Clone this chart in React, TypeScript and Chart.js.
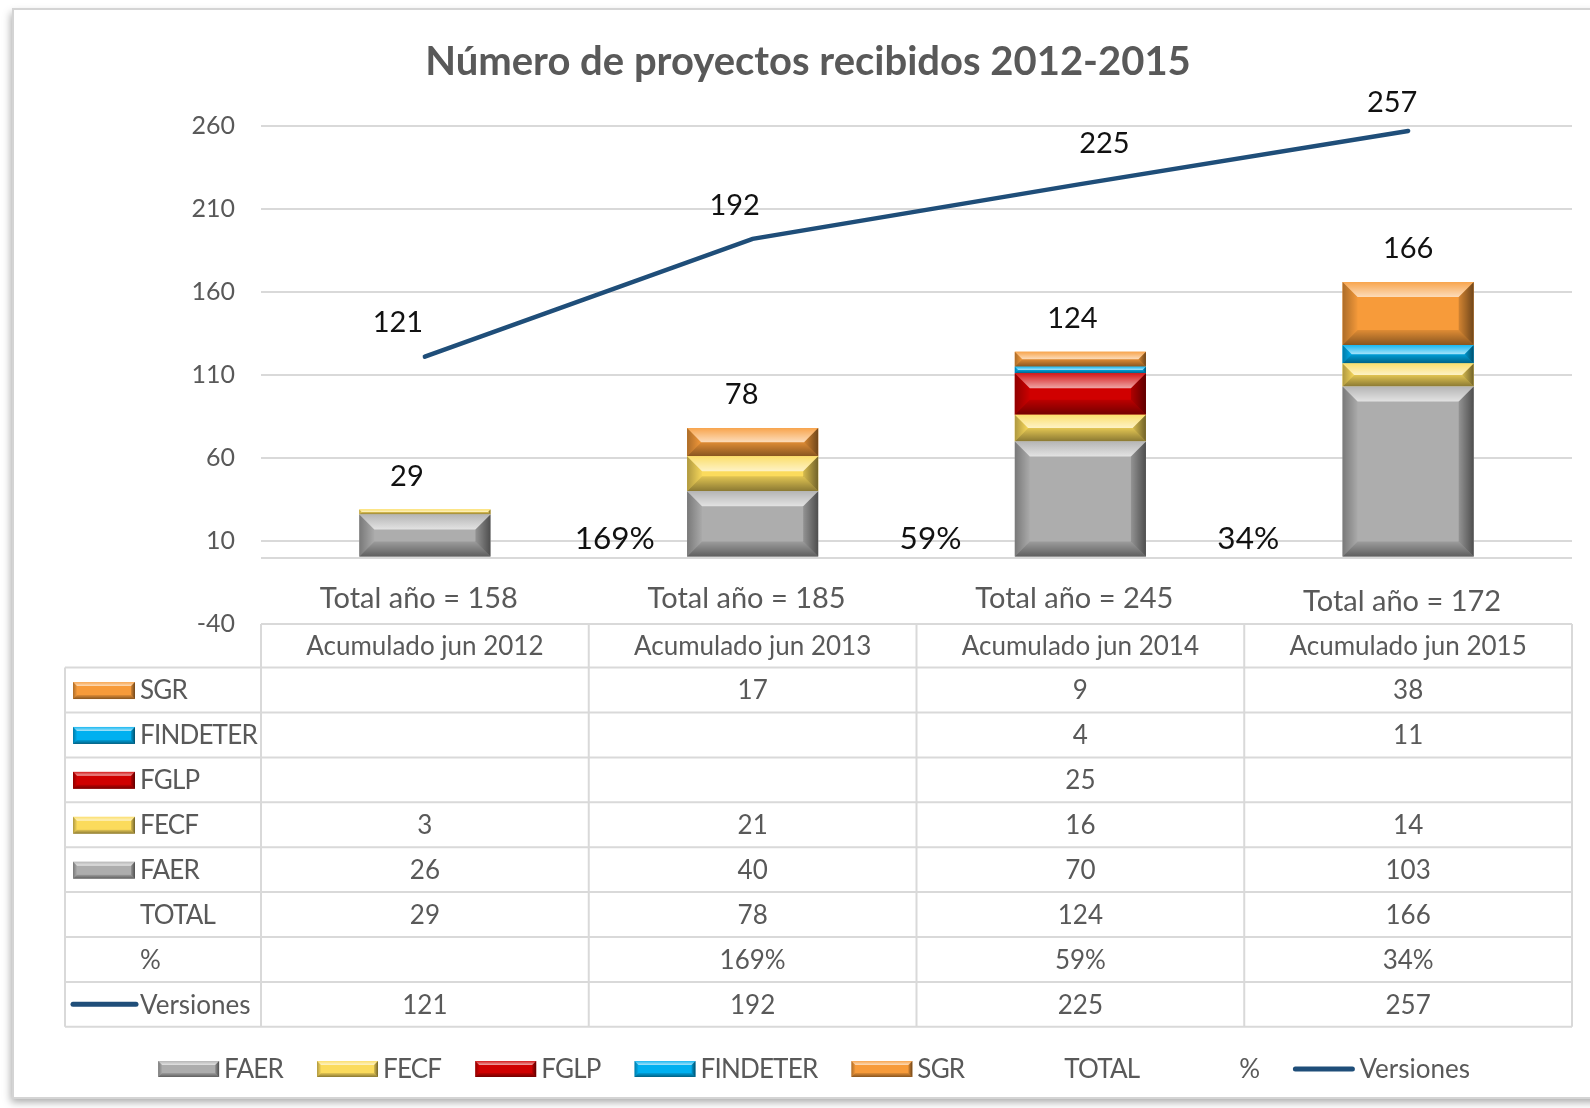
import { useEffect, useRef } from 'react';
import { Chart, registerables } from 'chart.js';

Chart.register(...registerables);

// ---- data ----
const categories = ['Acumulado jun 2012', 'Acumulado jun 2013', 'Acumulado jun 2014', 'Acumulado jun 2015'];
const faer: (number | null)[] = [26, 40, 70, 103];
const fecf: (number | null)[] = [3, 21, 16, 14];
const fglp: (number | null)[] = [null, null, 25, null];
const findeter: (number | null)[] = [null, null, 4, 11];
const sgr: (number | null)[] = [null, 17, 9, 38];
const totals: number[] = [29, 78, 124, 166];
const pct: (number | null)[] = [null, 169, 59, 34];
const versiones: number[] = [121, 192, 225, 257];
const totalAnio: number[] = [158, 185, 245, 172];
const yTicks: number[] = [-40, 10, 60, 110, 160, 210, 260];

const TITLE = 'Número de proyectos recibidos 2012-2015';

// ---- label placement (style, pixel offsets) ----
const lineLabelDx = [-27, -18, 24, -16];
const lineLabelDy = [-34, -33, -40, -28];
const totalLabelDx = [-18, -11, -8, 0];
const pctLabelDx = [0, 26, 14, 4];
const totalAnioDy = [0, 0, 0, 3];

// ---- styles ----
const F = 'Lato, "Noto Sans", sans-serif';
const GRAY_TEXT = '#595959';
const COLORS: Record<string, string> = {
  FAER: '#ADADAD',
  FECF: '#FBDB5C',
  FGLP: '#D00000',
  FINDETER: '#00B0F0',
  SGR: '#F79B3A',
};
const LINE_COLOR = '#1F4E79';

function poly(ctx: CanvasRenderingContext2D, pts: number[][], fill: string | CanvasGradient) {
  ctx.beginPath();
  ctx.moveTo(pts[0][0], pts[0][1]);
  for (let i = 1; i < pts.length; i++) ctx.lineTo(pts[i][0], pts[i][1]);
  ctx.closePath();
  ctx.fillStyle = fill;
  ctx.fill();
}

function bevelRect(ctx: CanvasRenderingContext2D, l: number, t: number, w: number, h: number, color: string, bv: number) {
  const r = l + w;
  const bot = t + h;
  const b = Math.max(0, Math.min(bv, h / 2, w / 2));
  ctx.fillStyle = color;
  ctx.fillRect(l, t, w, h);
  if (b <= 0) return;
  const gTop = ctx.createLinearGradient(0, t, 0, t + b);
  gTop.addColorStop(0, 'rgba(255,255,255,0.10)');
  gTop.addColorStop(1, 'rgba(255,255,255,0.65)');
  poly(ctx, [[l, t], [r, t], [r - b, t + b], [l + b, t + b]], gTop);
  const gBot = ctx.createLinearGradient(0, bot - b, 0, bot);
  gBot.addColorStop(0, 'rgba(0,0,0,0.10)');
  gBot.addColorStop(1, 'rgba(0,0,0,0.45)');
  poly(ctx, [[l, bot], [r, bot], [r - b, bot - b], [l + b, bot - b]], gBot);
  const gL = ctx.createLinearGradient(l, 0, l + b, 0);
  gL.addColorStop(0, 'rgba(0,0,0,0.30)');
  gL.addColorStop(1, 'rgba(0,0,0,0.02)');
  poly(ctx, [[l, t], [l + b, t + b], [l + b, bot - b], [l, bot]], gL);
  const gR = ctx.createLinearGradient(r - b, 0, r, 0);
  gR.addColorStop(0, 'rgba(0,0,0,0.15)');
  gR.addColorStop(1, 'rgba(0,0,0,0.55)');
  poly(ctx, [[r, t], [r - b, t + b], [r - b, bot - b], [r, bot]], gR);
}

function setSpacing(ctx: any, text: string) {
  ctx.letterSpacing = /[a-z]/.test(text) ? '0px' : '-0.8px';
}

const customPlugin = {
  id: 'customDraw',
  beforeDraw(chart: any) {
    const ctx: CanvasRenderingContext2D = chart.ctx;
    const W = chart.width;
    const H = chart.height;
    ctx.save();
    ctx.fillStyle = '#ffffff';
    ctx.fillRect(0, 0, W, H);
    ctx.shadowColor = 'rgba(0,0,0,0.35)';
    ctx.shadowBlur = 8;
    ctx.shadowOffsetX = -2;
    ctx.shadowOffsetY = 4;
    ctx.fillStyle = '#ffffff';
    ctx.fillRect(13, 9, 1660, 1089);
    ctx.shadowColor = 'transparent';
    ctx.strokeStyle = '#D4D4D4';
    ctx.lineWidth = 2;
    ctx.strokeRect(13, 9, 1660, 1089);
    ctx.fillStyle = GRAY_TEXT;
    ctx.font = `bold 40px ${F}`;
    ctx.textAlign = 'center';
    ctx.textBaseline = 'middle';
    ctx.fillText(TITLE, 808, 62);
    ctx.restore();
  },
  afterDatasetDraw(chart: any, args: any) {
    const ds = chart.data.datasets[args.index];
    if (ds.type === 'line') return;
    const ctx: CanvasRenderingContext2D = chart.ctx;
    const meta = chart.getDatasetMeta(args.index);
    ctx.save();
    meta.data.forEach((el: any, j: number) => {
      if (ds.data[j] == null) return;
      const { x, y, base, width } = el.getProps(['x', 'y', 'base', 'width'], true);
      const top = Math.min(y, base);
      const h = Math.abs(base - y);
      bevelRect(ctx, x - width / 2, top, width, h, ds.backgroundColor, 15);
    });
    ctx.restore();
  },
  afterDraw(chart: any) {
    const ctx: any = chart.ctx;
    const xs = chart.scales.x;
    const ys = chart.scales.y;
    const area = chart.chartArea;
    const n = categories.length;
    const cx = (i: number) => xs.getPixelForValue(i);
    const catW = area.width / n;
    const boundary = (i: number) => area.left + i * catW;
    ctx.save();
    ctx.textAlign = 'center';
    ctx.textBaseline = 'middle';

    // line labels
    const lineMeta = chart.getDatasetMeta(0);
    ctx.fillStyle = '#111111';
    ctx.font = `29px ${F}`;
    lineMeta.data.forEach((el: any, j: number) => {
      ctx.fillText(String(versiones[j]), el.x + lineLabelDx[j], el.y + lineLabelDy[j]);
    });
    // totals above bars
    totals.forEach((v, i) => {
      ctx.fillText(String(v), cx(i) + totalLabelDx[i], ys.getPixelForValue(v) - 33);
    });
    // percentage labels
    ctx.font = `31.5px ${F}`;
    pct.forEach((v, i) => {
      if (v == null) return;
      ctx.fillText(`${v}%`, boundary(i) + pctLabelDx[i], ys.getPixelForValue(0) - 19);
    });
    // total año labels
    ctx.fillStyle = GRAY_TEXT;
    ctx.font = `29px ${F}`;
    totalAnio.forEach((v, i) => {
      ctx.fillText(`Total año = ${v}`, cx(i) - 6, ys.getPixelForValue(-25) + totalAnioDy[i]);
    });

    // ---- data table ----
    const tableLeft = 65;
    const tableTop = ys.getPixelForValue(-40);
    const headerBottom = tableTop + 43.6;
    const rowH = 44.9;
    const rows: { label: string; key: string; values: (number | null)[]; fmt?: (v: number) => string }[] = [
      { label: 'SGR', key: 'SGR', values: sgr },
      { label: 'FINDETER', key: 'FINDETER', values: findeter },
      { label: 'FGLP', key: 'FGLP', values: fglp },
      { label: 'FECF', key: 'FECF', values: fecf },
      { label: 'FAER', key: 'FAER', values: faer },
      { label: 'TOTAL', key: '', values: totals },
      { label: '%', key: '', values: pct, fmt: (v) => `${v}%` },
      { label: 'Versiones', key: 'LINE', values: versiones },
    ];
    const tableBottom = headerBottom + rows.length * rowH;
    ctx.strokeStyle = '#D9D9D9';
    ctx.lineWidth = 2;
    ctx.beginPath();
    for (let k = 0; k <= rows.length; k++) {
      const y = headerBottom + k * rowH;
      ctx.moveTo(tableLeft, y);
      ctx.lineTo(area.right, y);
    }
    ctx.moveTo(tableLeft, headerBottom);
    ctx.lineTo(tableLeft, tableBottom);
    for (let i = 0; i <= n; i++) {
      const x = boundary(i);
      ctx.moveTo(x, tableTop);
      ctx.lineTo(x, tableBottom);
    }
    ctx.stroke();

    ctx.fillStyle = GRAY_TEXT;
    ctx.font = `26px ${F}`;
    categories.forEach((c, i) => {
      ctx.fillText(c, cx(i), (tableTop + headerBottom) / 2 + 1);
    });
    rows.forEach((row, k) => {
      const yc = headerBottom + (k + 0.5) * rowH + 1;
      if (row.key === 'LINE') {
        ctx.strokeStyle = LINE_COLOR;
        ctx.lineWidth = 5;
        ctx.lineCap = 'round';
        ctx.beginPath();
        ctx.moveTo(73, yc - 1);
        ctx.lineTo(136, yc - 1);
        ctx.stroke();
      } else if (row.key) {
        bevelRect(ctx, 73, yc - 9, 62, 17, COLORS[row.key], 4);
      }
      ctx.fillStyle = GRAY_TEXT;
      ctx.textAlign = 'left';
      setSpacing(ctx, row.label);
      ctx.fillText(row.label, 140, yc);
      ctx.letterSpacing = '0px';
      ctx.textAlign = 'center';
      row.values.forEach((v, i) => {
        if (v == null) return;
        ctx.fillText(row.fmt ? row.fmt(v) : String(v), cx(i), yc);
      });
    });

    // ---- legend ----
    const legendItems = [
      { label: 'FAER', key: 'FAER' },
      { label: 'FECF', key: 'FECF' },
      { label: 'FGLP', key: 'FGLP' },
      { label: 'FINDETER', key: 'FINDETER' },
      { label: 'SGR', key: 'SGR' },
      { label: 'TOTAL', key: '' },
      { label: '%', key: '' },
      { label: 'Versiones', key: 'LINE' },
    ];
    const keyW = 61;
    const gap = 5;
    const spacing = 34;
    ctx.font = `26px ${F}`;
    const widths = legendItems.map((it) => {
      setSpacing(ctx, it.label);
      const w = keyW + gap + ctx.measureText(it.label).width;
      ctx.letterSpacing = '0px';
      return w;
    });
    const totalW = widths.reduce((a, b) => a + b, 0) + spacing * (legendItems.length - 1);
    let lx = 814 - totalW / 2;
    const ly = 1069;
    legendItems.forEach((it, k) => {
      if (it.key === 'LINE') {
        ctx.strokeStyle = LINE_COLOR;
        ctx.lineWidth = 5;
        ctx.lineCap = 'round';
        ctx.beginPath();
        ctx.moveTo(lx + 2, ly);
        ctx.lineTo(lx + keyW - 2, ly);
        ctx.stroke();
      } else if (it.key) {
        bevelRect(ctx, lx, ly - 8, keyW, 16, COLORS[it.key], 4);
      }
      ctx.fillStyle = GRAY_TEXT;
      ctx.textAlign = 'left';
      setSpacing(ctx, it.label);
      ctx.fillText(it.label, lx + keyW + gap, ly + 1);
      ctx.letterSpacing = '0px';
      lx += widths[k] + spacing;
    });
    ctx.restore();
  },
};

export default function App() {
  const ref = useRef<HTMLCanvasElement | null>(null);
  useEffect(() => {
    if (!ref.current) return;
    const mk = (label: string, data: (number | null)[]) => ({
      type: 'bar' as const,
      label,
      data,
      backgroundColor: COLORS[label],
      borderWidth: 0,
      stack: 'bars',
      order: 1,
    });
    const chart = new Chart(ref.current, {
      type: 'bar',
      data: {
        labels: categories,
        datasets: [
          {
            type: 'line',
            label: 'Versiones',
            data: versiones,
            borderColor: LINE_COLOR,
            backgroundColor: LINE_COLOR,
            borderWidth: 4.5,
            borderCapStyle: 'round',
            pointRadius: 0,
            tension: 0,
            stack: 'line',
            order: 0,
          } as any,
          mk('FAER', faer),
          mk('FECF', fecf),
          mk('FGLP', fglp),
          mk('FINDETER', findeter),
          mk('SGR', sgr),
        ],
      },
      options: {
        responsive: false,
        animation: false,
        devicePixelRatio: 1,
        layout: { padding: { left: 0, right: 18, top: 126, bottom: 484 } },
        plugins: {
          legend: { display: false },
          title: { display: false },
          tooltip: { enabled: false },
        },
        datasets: { bar: { barPercentage: 0.4, categoryPercentage: 1 } },
        scales: {
          x: { display: false, stacked: true, offset: true },
          y: {
            stacked: true,
            min: -40,
            max: 260,
            afterBuildTicks: (scale: any) => {
              scale.ticks = [...yTicks, 0].sort((a, b) => a - b).map((v) => ({ value: v }));
            },
            afterFit: (scale: any) => {
              scale.width = 261;
            },
            grid: { color: '#D9D9D9', lineWidth: 2, drawTicks: false },
            border: { display: false },
            ticks: {
              padding: 26,
              color: GRAY_TEXT,
              font: { family: F, size: 25 },
              callback: (v: any) => (yTicks.includes(Number(v)) ? String(v) : ''),
            },
          },
        },
      } as any,
      plugins: [customPlugin],
    });
    return () => chart.destroy();
  }, []);
  return (
    <div style={{ position: 'fixed', left: 0, top: 0, width: 1590, height: 1108, background: '#fff' }}>
      <canvas ref={ref} width={1590} height={1108} style={{ display: 'block', width: 1590, height: 1108 }} />
    </div>
  );
}
